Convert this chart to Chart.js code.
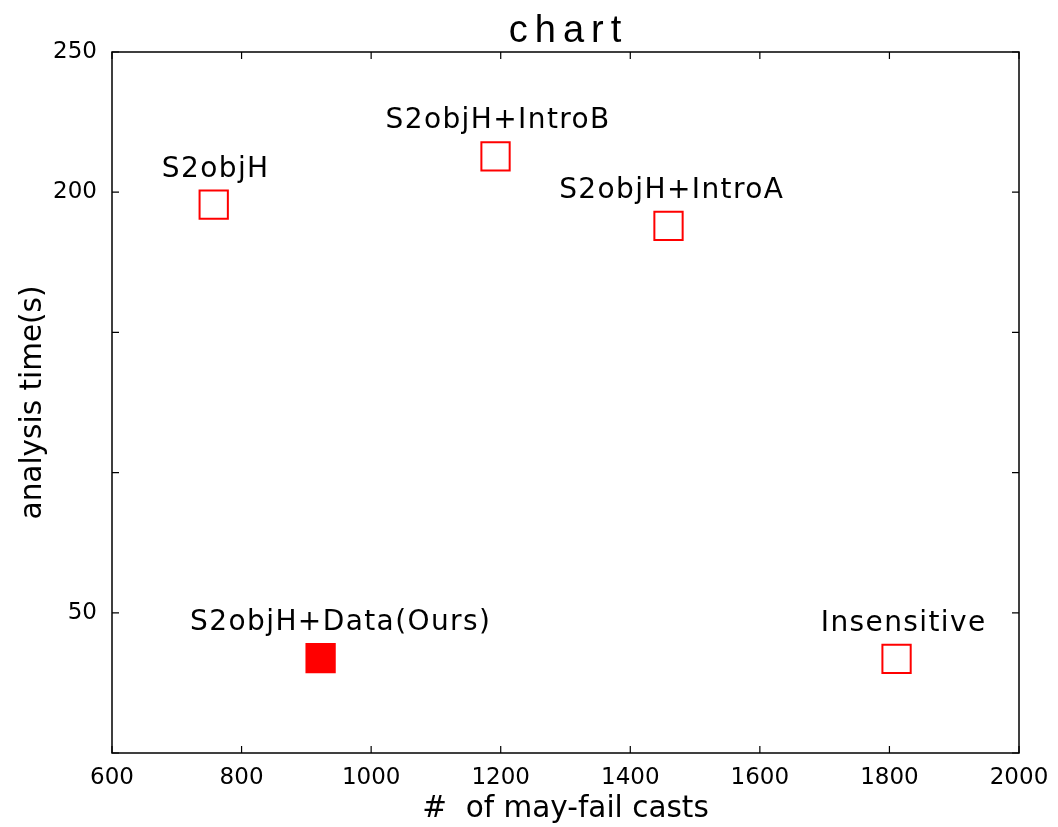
<!DOCTYPE html>
<html>
<head>
<meta charset="utf-8">
<script src="https://cdn.jsdelivr.net/npm/chart.js@4"></script>
<style>
  body { margin: 0; background: #fff; }
</style>
</head>
<body>
<canvas id="chart" width="1058" height="827"></canvas>
<script>
const names = ['S2objH', 'S2objH+IntroB', 'S2objH+IntroA', 'S2objH+Data(Ours)', 'Insensitive'];
const castCounts = [757, 1192, 1459, 922, 1811];
const analysisTimes = [195.6, 212.8, 188, 33.8, 33.6];
// x value the annotation text is centred on
const labelCasts = [760, 1196, 1464, 953, 1822];
const oursName = 'S2objH+Data(Ours)';
const yTickLabels = [50, 200, 250];

const font = "'DejaVu Sans', sans-serif";

// matplotlib style: full frame with ticks pointing inward on all four sides
const frame = {
  id: 'frame',
  afterDatasetsDraw(chart) {
    const { ctx, chartArea: a, scales } = chart;
    ctx.save();
    ctx.strokeStyle = '#000';
    ctx.lineWidth = 1.5;
    ctx.strokeRect(a.left, a.top, a.right - a.left, a.bottom - a.top);
    ctx.lineWidth = 1.2;
    ctx.beginPath();
    scales.x.ticks.forEach(t => {
      const px = scales.x.getPixelForValue(t.value);
      ctx.moveTo(px, a.bottom); ctx.lineTo(px, a.bottom - 7);
      ctx.moveTo(px, a.top); ctx.lineTo(px, a.top + 7);
    });
    scales.y.ticks.forEach(t => {
      const py = scales.y.getPixelForValue(t.value);
      ctx.moveTo(a.left, py); ctx.lineTo(a.left + 7, py);
      ctx.moveTo(a.right, py); ctx.lineTo(a.right - 7, py);
    });
    ctx.stroke();
    ctx.restore();
  }
};

const pointLabels = {
  id: 'pointLabels',
  afterDatasetsDraw(chart) {
    const { ctx, scales } = chart;
    ctx.save();
    ctx.fillStyle = '#000';
    ctx.font = '28px ' + font;
    ctx.letterSpacing = '1.4px';
    ctx.textAlign = 'center';
    ctx.textBaseline = 'alphabetic';
    names.forEach((n, i) => {
      const px = scales.x.getPixelForValue(labelCasts[i]);
      const py = scales.y.getPixelForValue(analysisTimes[i]);
      ctx.fillText(n, px, py - 28);
    });
    ctx.restore();
  }
};

const spacedTitle = {
  id: 'spacedTitle',
  afterDraw(chart) {
    const { ctx, chartArea: a } = chart;
    ctx.save();
    ctx.fillStyle = '#000';
    ctx.font = "38px 'Liberation Sans', Arial, sans-serif";
    ctx.letterSpacing = '7px';
    ctx.textAlign = 'center';
    ctx.textBaseline = 'alphabetic';
    ctx.fillText('chart', (a.left + a.right) / 2 + 3, 42);
    ctx.restore();
  }
};

new Chart(document.getElementById('chart'), {
  type: 'scatter',
  data: {
    datasets: [{
      label: 'tools',
      data: castCounts.map((x, i) => ({ x: x, y: analysisTimes[i] })),
      pointStyle: 'rect',
      pointRadius: 20,
      pointHoverRadius: 20,
      borderWidth: 2,
      borderColor: '#ff0000',
      backgroundColor: ctx => names[ctx.dataIndex] === oursName ? '#ff0000' : '#ffffff'
    }]
  },
  options: {
    responsive: false,
    animation: false,
    layout: { padding: { top: 52, right: 39, left: 0, bottom: 0 } },
    plugins: {
      legend: { display: false },
      tooltip: { enabled: false },
      title: { display: false }
    },
    scales: {
      x: {
        min: 600, max: 2000,
        grid: { display: false },
        border: { display: false },
        ticks: { stepSize: 200, color: '#000', padding: 3, font: { family: font, size: 23 }, callback: v => String(v) },
        title: { display: true, text: '#  of may-fail casts', color: '#000', font: { family: font, size: 29.5 }, padding: { top: 0, bottom: 0 } },
        afterFit(s) { s.height = 74; }
      },
      y: {
        min: 0, max: 250,
        grid: { display: false },
        border: { display: false },
        ticks: {
          stepSize: 50, color: '#000', padding: 7, font: { family: font, size: 23 },
          callback: v => yTickLabels.includes(v) ? String(v) : ''
        },
        title: { display: true, text: 'analysis time(s)', color: '#000', font: { family: font, size: 29.5 }, padding: { top: 16, bottom: 0 } },
        afterFit(s) { s.width = 112; }
      }
    }
  },
  plugins: [frame, pointLabels, spacedTitle]
});
</script>
</body>
</html>
